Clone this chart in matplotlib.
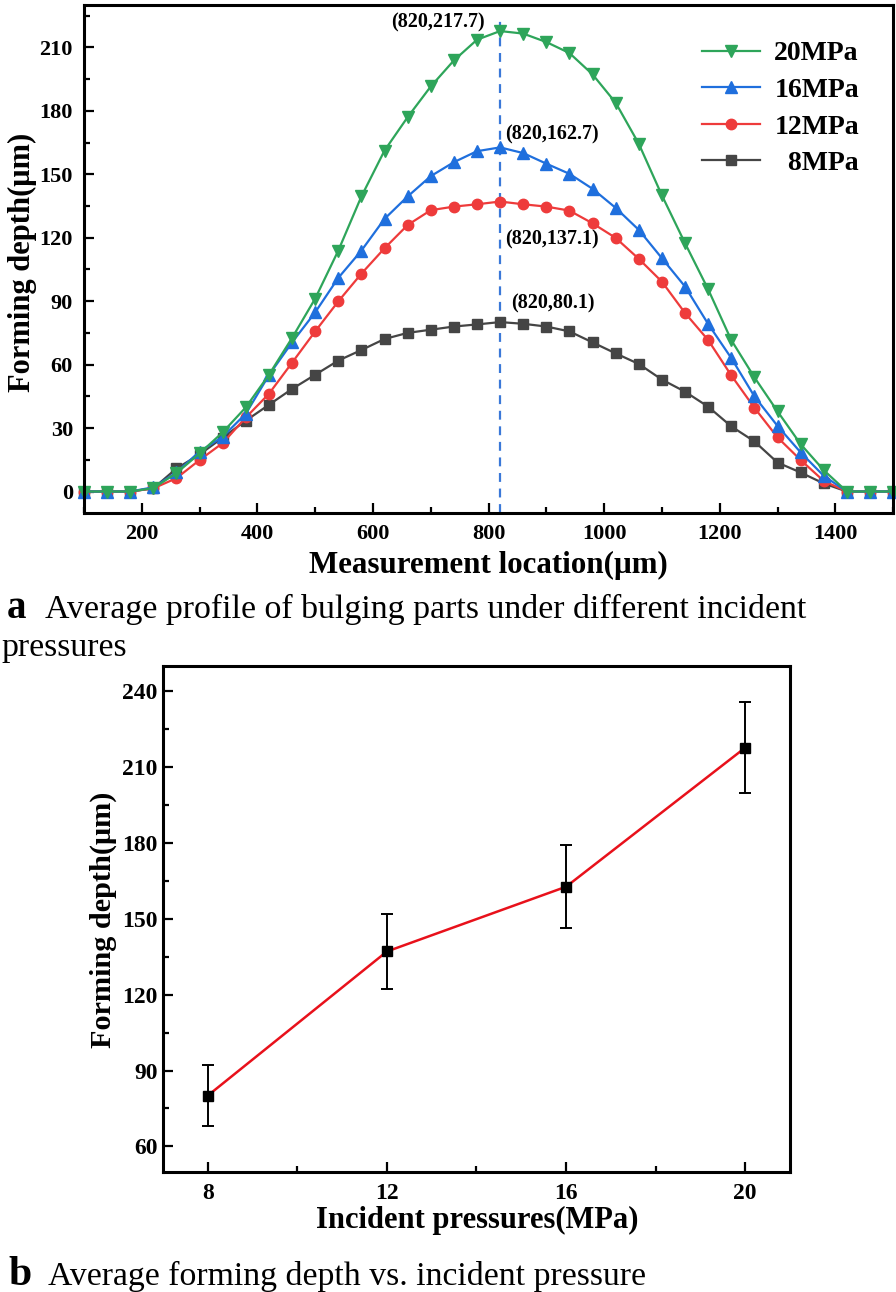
import matplotlib
matplotlib.use('Agg')
import matplotlib.pyplot as plt
from matplotlib.ticker import MultipleLocator

plt.rcParams['font.family'] = ['Liberation Serif', 'DejaVu Serif']
plt.rcParams['font.weight'] = 'bold'
plt.rcParams['mathtext.default'] = 'regular'

# 测量位置 (μm)
location = [100, 140, 180, 220, 260, 300, 340, 380, 420, 460, 500, 540,
            580, 620, 660, 700, 740, 780, 820, 860, 900, 940, 980, 1020,
            1060, 1100, 1140, 1180, 1220, 1260, 1300, 1340, 1380, 1420, 1460, 1500]

depth_8 = [0, 0, 0, 1.5, 10.9, 17.5, 25.5, 33.5, 41, 48.5, 55.2, 61.9,
           66.9, 72.1, 75, 76.5, 78, 79, 80.1, 79.3, 78, 75.7, 70.5, 65.3,
           60.3, 52.9, 47.2, 40.1, 30.8, 23.7, 13.7, 9.0, 3.8, 0, 0, 0]
depth_12 = [0, 0, 0, 1.5, 6.3, 14.9, 22.9, 35, 46.2, 60.9, 75.7, 89.9,
            103, 115, 126, 133, 134.7, 135.8, 137.1, 135.8, 134.7, 132.8, 126.8, 119.9,
            110, 99.2, 84.4, 71.6, 54.9, 39.6, 25.6, 14.9, 5, 0, 0, 0]
depth_16 = [0, 0, 0, 2, 9, 18.9, 25.9, 36.8, 55, 70.5, 84.7, 101,
            113.9, 128.9, 139.5, 149.1, 155.7, 160.9, 162.7, 160, 155, 150.2, 143.1, 134.1,
            123.7, 110.3, 96.9, 79.2, 63.1, 45, 31, 18.5, 7.4, 0, 0, 0]
depth_20 = [0, 0, 0, 1.6, 8.7, 18, 28, 39.8, 55.2, 72.6, 91.2, 113.9,
            139.5, 161.2, 177, 191.5, 203.8, 213.6, 217.7, 216.5, 212.5, 207.3, 197.2, 183.8,
            164.4, 140, 117.4, 95.6, 71.6, 54, 37.9, 22.4, 10.1, 0, 0, 0]

# 入射压力与平均成形深度
pressure = [8, 12, 16, 20]
peak_location = 820
mean_depth = [80.1, 137.1, 162.7, 217.7]
depth_err = [12, 15, 16.5, 18]
pressure_labels = ['8', '12', '16', '20']

series = [
    ('  8MPa', depth_8, '#454545', 's', 7),
    ('12MPa', depth_12, '#EE3B3B', 'o', 7.5),
    ('16MPa', depth_16, '#1F6FDD', '^', 8.5),
    ('20MPa', depth_20, '#2EA55A', 'v', 8.5),
]

fig = plt.figure(figsize=(8.96, 12.92), dpi=100)

# ---------- a: 成形轮廓 ----------
ax1 = fig.add_axes([0.09375, 0.6032, 0.9030, 0.3929])
lines = {}
for label, vals, color, marker, ms in series:
    ln, = ax1.plot(location, vals, color=color, marker=marker, markersize=ms,
                   linewidth=1.6, clip_on=False, label=label)
    lines[label] = ln

ax1.set_xlim(100, 1500)
ax1.set_ylim(-10, 230)
ax1.vlines(peak_location, -10, 225, colors='#3A78D8', linestyles=(0, (4, 3)),
           linewidth=1.6, zorder=1)

ax1.xaxis.set_major_locator(MultipleLocator(200))
ax1.xaxis.set_minor_locator(MultipleLocator(100))
ax1.yaxis.set_major_locator(MultipleLocator(30))
ax1.yaxis.set_minor_locator(MultipleLocator(15))
ax1.tick_params(which='both', direction='in', top=False, right=False,
                width=1.6, labelsize=16, pad=8)
ax1.tick_params(which='major', length=7)
ax1.tick_params(which='minor', length=4)
for sp in ax1.spines.values():
    sp.set_linewidth(2.2)

# 峰值标注
offsets = [(8, 13.5, 'left'), (3.6, -27.4, 'left'), (3.6, 9.3, 'left'), (-10.8, 6.3, 'right')]
for val, (dx, dy, ha) in zip(mean_depth, offsets):
    ax1.annotate('(%d,%.1f)' % (peak_location, val), xy=(peak_location, val),
                 xytext=(dx, dy), textcoords='offset points', ha=ha, va='center',
                 fontsize=14.5, fontweight='bold')

order = ['20MPa', '16MPa', '12MPa', '  8MPa']
ax1.legend([lines[k] for k in order], order, loc='upper right',
           bbox_to_anchor=(0.9587, 0.9683), bbox_transform=fig.transFigure,
           frameon=False, fontsize=20, handlelength=2.1, handletextpad=0.5,
           labelspacing=0.4, borderpad=0, borderaxespad=0)

fig.text(0.5446, 0.5627, 'Measurement location(μm)', ha='center', va='center',
         fontsize=22.3, fontweight='bold')
fig.text(0.0246, 0.7972, 'Forming depth(μm)', ha='center', va='center',
         rotation=90, fontsize=22, fontweight='bold')

# 图注 a
fig.text(7 / 896, 1 - 618 / 1292, 'a', fontsize=28, fontweight='bold', va='baseline')
fig.text(45 / 896, 1 - 618 / 1292, 'Average profile of bulging parts under different incident',
         fontsize=24.4, fontweight='normal', va='baseline')
fig.text(1 / 896, 1 - 656 / 1292, 'pressures', fontsize=24.4, fontweight='normal', va='baseline')

# ---------- b: 平均成形深度 ----------
ax2 = fig.add_axes([0.1819, 0.09311, 0.6998, 0.39141])
ax2.plot(pressure, mean_depth, color='#E8111B', linewidth=1.8, zorder=2)
ax2.errorbar(pressure, mean_depth, yerr=depth_err, fmt='s', color='black',
             markersize=7, ecolor='black', elinewidth=1.4, capsize=4, capthick=1.4,
             zorder=3)
ax2.set_xlim(7, 21)
ax2.set_ylim(50, 250)
ax2.set_xticks(pressure)
ax2.set_xticklabels(pressure_labels)
ax2.xaxis.set_minor_locator(MultipleLocator(2))
ax2.yaxis.set_major_locator(MultipleLocator(30))
ax2.yaxis.set_minor_locator(MultipleLocator(15))
ax2.set_yticks([60, 90, 120, 150, 180, 210, 240])
ax2.tick_params(which='both', direction='in', top=False, right=False,
                width=1.6, labelsize=17)
ax2.tick_params(axis='x', pad=8)
ax2.tick_params(axis='y', pad=4)
ax2.tick_params(which='major', length=7)
ax2.tick_params(which='minor', length=4)
for sp in ax2.spines.values():
    sp.set_linewidth(2.2)

fig.text(477 / 896, 1 - 1220 / 1292, 'Incident pressures(MPa)', ha='center', va='center',
         fontsize=22, fontweight='bold')
fig.text(103 / 896, 1 - 920 / 1292, 'Forming depth(μm)', ha='center', va='center',
         rotation=90, fontsize=21.8, fontweight='bold')

# 图注 b
fig.text(8 / 896, 1 - 1285 / 1292, 'b', fontsize=30, fontweight='bold', va='baseline')
fig.text(48 / 896, 1 - 1285 / 1292, 'Average forming depth vs. incident pressure',
         fontsize=24.3, fontweight='normal', va='baseline')

fig.savefig('out.png', dpi=100)
